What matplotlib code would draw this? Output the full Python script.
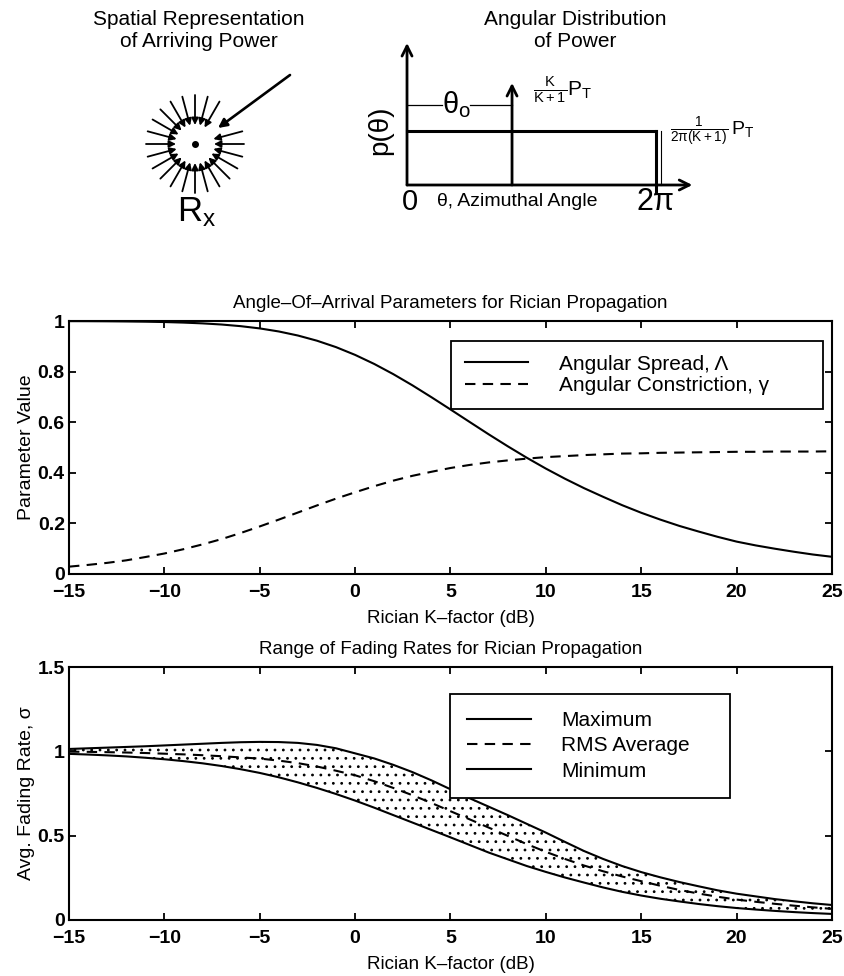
import numpy as np
import matplotlib
matplotlib.use('Agg')
import matplotlib.pyplot as plt

# ---------------------------------------------------------------
# data (1 dB steps)
# ---------------------------------------------------------------
k_db = list(range(-15, 26))

# angle-of-arrival parameters
spread = [0.9995, 0.9993, 0.9989, 0.9982, 0.9973, 0.9959, 0.9937, 0.9906, 0.9861, 0.9796,
          0.9707, 0.9586, 0.9426, 0.9221, 0.8967, 0.8660, 0.8303, 0.7900, 0.7459, 0.6988,
          0.6503, 0.6011, 0.5522, 0.5049, 0.4595, 0.4166, 0.3766, 0.3393, 0.3051, 0.2720,
          0.242, 0.215, 0.190, 0.168, 0.147, 0.128, 0.113, 0.100, 0.088, 0.077, 0.068]
constriction = [0.029, 0.036, 0.044, 0.054, 0.067, 0.081, 0.098, 0.117, 0.138, 0.162,
                0.188, 0.215, 0.243, 0.271, 0.298, 0.323, 0.347, 0.369, 0.388, 0.404,
                0.419, 0.431, 0.441, 0.449, 0.456, 0.462, 0.466, 0.470, 0.473, 0.476,
                0.477, 0.479, 0.480, 0.481, 0.482, 0.483, 0.483, 0.484, 0.484, 0.484, 0.485]

# fading rates
rate_max = [1.014, 1.018, 1.022, 1.026, 1.030, 1.035, 1.040, 1.045, 1.050, 1.054,
            1.056, 1.055, 1.050, 1.038, 1.018, 0.988, 0.958, 0.920, 0.877, 0.828,
            0.775, 0.722, 0.672, 0.622, 0.570, 0.518, 0.463, 0.409, 0.362, 0.320,
            0.284, 0.253, 0.225, 0.200, 0.176, 0.156, 0.140, 0.124, 0.111, 0.099, 0.089]
rate_rms = [0.998, 0.997, 0.995, 0.993, 0.990, 0.986, 0.982, 0.977, 0.971, 0.964,
            0.957, 0.945, 0.930, 0.910, 0.885, 0.858, 0.823, 0.783, 0.740, 0.694,
            0.645, 0.597, 0.548, 0.499, 0.450, 0.404, 0.362, 0.323, 0.289, 0.258,
            0.230, 0.203, 0.178, 0.157, 0.138, 0.121, 0.108, 0.096, 0.085, 0.075, 0.066]
rate_min = [0.985, 0.981, 0.976, 0.970, 0.962, 0.953, 0.942, 0.929, 0.913, 0.894,
            0.872, 0.846, 0.816, 0.783, 0.747, 0.708, 0.666, 0.622, 0.578, 0.534,
            0.490, 0.445, 0.400, 0.360, 0.320, 0.285, 0.252, 0.222, 0.193, 0.167,
            0.145, 0.126, 0.110, 0.095, 0.082, 0.071, 0.062, 0.054, 0.047, 0.041, 0.036]

x_ticks = [-15, -10, -5, 0, 5, 10, 15, 20, 25]
y1_ticks = [0, 0.2, 0.4, 0.6, 0.8, 1]
y1_labels = ['0', '0.2', '0.4', '0.6', '0.8', '1']
y2_ticks = [0, 0.5, 1, 1.5]
y2_labels = ['0', '0.5', '1', '1.5']

# schematic diagram values
arrival_angles = [0, 15, 60, 75, 90, 105, 120, 135, 150, 165, 180, 195,
                  210, 225, 240, 255, 270, 285, 300, 315, 330, 345]
theta_0 = 2.65          # direction of specular component (rad)
diffuse_level = 1.0     # height of uniform part
specular_height = 1.89

# ---------------------------------------------------------------
# style
# ---------------------------------------------------------------
plt.rcParams.update({
    'font.family': ['Liberation Sans', 'DejaVu Sans'],
    'mathtext.default': 'regular',
    'axes.linewidth': 1.5,
    'xtick.direction': 'in',
    'ytick.direction': 'in',
    'xtick.top': True,
    'ytick.right': True,
    'xtick.major.size': 5,
    'ytick.major.size': 5,
    'xtick.major.width': 1.3,
    'ytick.major.width': 1.3,
    'xtick.major.pad': 7,
    'ytick.major.pad': 3,
    'hatch.linewidth': 0.8,
    'hatch.color': 'black',
})
NARROW = ['Liberation Sans Narrow', 'Liberation Sans', 'DejaVu Sans']

W, H = 845, 976
fig = plt.figure(figsize=(W / 100, H / 100), dpi=100)


def px_axes(x0, y0, x1, y1):
    # axes placed by pixel box (top-left origin)
    return fig.add_axes([x0 / W, 1 - y1 / H, (x1 - x0) / W, (y1 - y0) / H])


# ---------------------------------------------------------------
# top left: spatial representation
# ---------------------------------------------------------------
axs = px_axes(95, 0, 300, 240)
axs.set_xlim(-2.0, 2.1)
axs.set_ylim(-1.92, 2.88)
axs.axis('off')

for a in arrival_angles:
    t = np.deg2rad(a)
    axs.annotate('', xy=(0.38 * np.cos(t), 0.38 * np.sin(t)),
                 xytext=(0.98 * np.cos(t), 0.98 * np.sin(t)),
                 arrowprops=dict(arrowstyle='-|>', color='black', lw=1.3,
                                 mutation_scale=10, shrinkA=0, shrinkB=0))
axs.annotate('', xy=(0.46, 0.32), xytext=(1.9, 1.38),
             arrowprops=dict(arrowstyle='-|>', color='black', lw=1.9,
                             mutation_scale=13, shrinkA=0, shrinkB=0))
axs.plot([0], [0], 'o', color='black', markersize=4)
axs.text(0.08, 2.27, 'Spatial Representation\nof Arriving Power',
         ha='center', va='center', fontsize=15, linespacing=1.2)
axs.text(0.04, -1.36, r'$R_x$', ha='center', va='center', fontsize=25)

# ---------------------------------------------------------------
# top right: angular distribution of power
# ---------------------------------------------------------------
axd = px_axes(370, 30, 720, 220)
axd.set_xlim(-0.934, 7.898)
axd.set_ylim(-0.648, 2.870)
axd.axis('off')

two_pi = 2 * np.pi
arrow_kw = dict(arrowstyle='->', color='black', lw=2, mutation_scale=18,
                shrinkA=0, shrinkB=0)
axd.annotate('', xy=(0, 2.63), xytext=(0, 0), arrowprops=arrow_kw)
axd.annotate('', xy=(7.2, 0), xytext=(0, 0), arrowprops=arrow_kw)
axd.annotate('', xy=(theta_0, specular_height), xytext=(theta_0, 0),
             arrowprops=arrow_kw)
axd.plot([0, two_pi], [diffuse_level, diffuse_level], color='black', lw=2.2)
axd.plot([two_pi, two_pi], [-0.13, diffuse_level], color='black', lw=2.2)
axd.plot([two_pi + 0.13] * 2, [0, diffuse_level], color='black', lw=0.8)
axd.plot([0, 0.88], [1.48, 1.48], color='black', lw=0.9)
axd.plot([1.59, theta_0], [1.48, 1.48], color='black', lw=0.9)
axd.text(1.24, 1.48, r'$\theta_o$', ha='center', va='center', fontsize=21)
axd.text(3.18, 1.76, r'$\frac{K}{K+1}P_T$', ha='left', va='center', fontsize=15)
axd.text(6.64, 1.0, r'$\frac{1}{2\pi(K+1)}\,P_T$', ha='left', va='center', fontsize=14)
axd.text(-0.68, 1.02, 'p(θ)', rotation=90, ha='center', va='center', fontsize=20)
axd.text(0.08, -0.31, '0', ha='center', va='center', fontsize=21)
axd.text(0.76, -0.31, 'θ, Azimuthal Angle', ha='left', va='center', fontsize=14)
axd.text(6.26, -0.31, r'$2\pi$', ha='center', va='center', fontsize=22)
axd.text(4.24, 2.86, 'Angular Distribution\nof Power',
         ha='center', va='center', fontsize=15, linespacing=1.2)

# ---------------------------------------------------------------
# middle: angle-of-arrival parameters
# ---------------------------------------------------------------
ax1 = px_axes(69, 321, 832, 574)
ax1.plot(k_db, spread, color='black', lw=1.5, label='Angular Spread, Λ')
ax1.plot(k_db, constriction, color='black', lw=1.5, dashes=(5, 3.5),
         label='Angular Constriction, γ')
ax1.set_xlim(-15, 25)
ax1.set_ylim(0, 1)
ax1.set_xticks(x_ticks)
ax1.set_yticks(y1_ticks)
ax1.set_yticklabels(y1_labels)
ax1.set_title('Angle–Of–Arrival Parameters for Rician Propagation',
              fontsize=13.5, family=NARROW, pad=9)
ax1.set_xlabel('Rician K–factor (dB)', fontsize=13.5, family=NARROW, labelpad=7)
ax1.set_ylabel('Parameter Value', fontsize=14, labelpad=2)
leg1 = ax1.legend(loc='upper left', bbox_to_anchor=(0.5007, 0.921, 0.4873, 0),
                  mode='expand', fontsize=15, handlelength=3.05, handletextpad=1.45,
                  borderpad=0.66, labelspacing=0.12, fancybox=False,
                  edgecolor='black', framealpha=1, borderaxespad=0)
leg1.get_frame().set_linewidth(1.3)

# ---------------------------------------------------------------
# bottom: range of fading rates
# ---------------------------------------------------------------
ax2 = px_axes(69, 667, 832, 920)
ax2.fill_between(k_db, rate_min, rate_max, facecolor='none', edgecolor='black',
                 hatch='..', linewidth=0)
ax2.plot(k_db, rate_max, color='black', lw=1.5, label='Maximum')
ax2.plot(k_db, rate_rms, color='black', lw=1.5, dashes=(5, 3.5), label='RMS Average')
ax2.plot(k_db, rate_min, color='black', lw=1.5, label='Minimum')
ax2.set_xlim(-15, 25)
ax2.set_ylim(0, 1.5)
ax2.set_xticks(x_ticks)
ax2.set_yticks(y2_ticks)
ax2.set_yticklabels(y2_labels)
ax2.set_title('Range of Fading Rates for Rician Propagation',
              fontsize=13.5, family=NARROW, pad=9)
ax2.set_xlabel('Rician K–factor (dB)', fontsize=13.5, family=NARROW, labelpad=7)
ax2.set_ylabel('Avg. Fading Rate, σ', fontsize=14, labelpad=2)
leg2 = ax2.legend(loc='upper left', bbox_to_anchor=(0.4993, 0.893, 0.367, 0),
                  mode='expand', fontsize=15, handlelength=3.05, handletextpad=1.45,
                  borderpad=0.82, labelspacing=0.3, fancybox=False,
                  edgecolor='black', framealpha=1, borderaxespad=0)
leg2.get_frame().set_linewidth(1.3)

for ax in (ax1, ax2):
    for lab in ax.get_xticklabels() + ax.get_yticklabels():
        lab.set_fontsize(14)
        lab.set_family(NARROW)
        lab.set_fontweight('bold')

fig.savefig('out.png', dpi=100)
